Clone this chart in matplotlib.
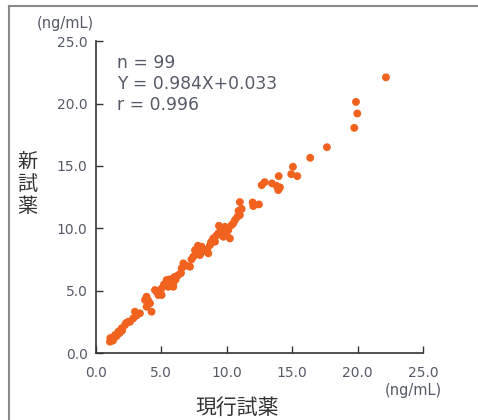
import matplotlib
matplotlib.use('Agg')
import matplotlib.pyplot as plt
from matplotlib.lines import Line2D

plt.rcParams['font.family'] = ['DejaVu Sans', 'Noto Sans CJK JP']

# 現行試薬 (x) vs 新試薬 (y), ng/mL
current_reagent = [
    22.17, 19.88, 19.98, 19.75, 17.66, 16.38, 15.06, 14.93, 15.39, 13.97,
    13.46, 13.81, 14.07, 13.94, 12.67, 11.98, 12.46, 12.03, 11.00, 11.14,
    11.00, 10.63, 10.80, 10.37, 10.12, 10.24, 9.40, 9.86, 9.99, 9.73,
    9.35, 8.97, 9.10, 8.72, 8.59, 8.08, 7.90, 7.70, 7.57, 7.95,
    7.44, 8.30, 9.60, 10.50, 9.20, 6.68, 7.19, 6.55, 6.29, 6.90,
    5.91, 5.40, 5.79, 5.28, 5.91, 5.53, 5.02, 4.64, 5.02, 4.51,
    4.77, 3.87, 3.75, 4.13, 3.87, 4.25, 2.98, 3.36, 2.85, 2.47,
    2.22, 1.96, 1.71, 1.45, 1.20, 1.07, 1.30, 1.60, 2.00, 2.30,
    2.60, 1.10, 1.80, 6.00, 6.50, 5.60, 7.30, 6.10, 8.80, 8.00,
    8.50, 3.10, 5.20, 12.90, 10.90, 9.50, 7.80, 4.00, 1.50,
]
new_reagent = [
    22.10, 20.13, 19.20, 18.05, 16.50, 15.65, 14.93, 14.34, 14.18, 14.18,
    13.60, 13.40, 13.28, 13.06, 13.46, 12.07, 11.91, 11.78, 12.10, 11.55,
    11.06, 10.66, 10.90, 10.26, 9.86, 9.19, 10.20, 10.12, 9.46, 9.32,
    9.59, 9.19, 8.92, 8.65, 7.99, 8.52, 8.40, 8.12, 8.25, 7.85,
    7.72, 8.20, 9.90, 10.40, 9.40, 7.19, 6.92, 6.79, 6.25, 7.00,
    5.58, 5.85, 5.71, 5.45, 5.31, 5.31, 5.18, 4.91, 4.65, 5.05,
    4.65, 4.51, 4.25, 3.98, 3.71, 3.31, 3.31, 3.18, 2.78, 2.51,
    2.24, 1.98, 1.71, 1.44, 1.18, 0.91, 1.00, 1.40, 1.80, 2.40,
    2.50, 1.20, 1.60, 6.10, 6.40, 5.90, 7.50, 5.90, 8.90, 8.00,
    8.30, 3.00, 5.50, 13.70, 11.40, 9.70, 8.60, 4.20, 1.30,
]
ticks = [0, 5, 10, 15, 20, 25]
tick_labels = ['0.0', '5.0', '10.0', '15.0', '20.0', '25.0']
stats_text = 'n = 99\nY = 0.984X+0.033\nr = 0.996'

text_col = '#555a66'
dot_col = '#f0621e'

fig = plt.figure(figsize=(4.78, 4.20), dpi=100)
ax = fig.add_axes([0.2008, 0.1595, 0.684, 0.7425])

ax.scatter(current_reagent, new_reagent, s=32, color=dot_col, edgecolors='none', zorder=3)

ax.set_xlim(0, 25)
ax.set_ylim(0, 25)
ax.set_xticks(ticks)
ax.set_yticks(ticks)
ax.set_xticklabels(tick_labels)
ax.set_yticklabels(tick_labels)
ax.tick_params(direction='in', length=5, width=1, colors='#333333',
               labelcolor=text_col, labelsize=10)
ax.tick_params(axis='x', pad=9)
ax.tick_params(axis='y', pad=6)
ax.spines['top'].set_visible(False)
ax.spines['right'].set_visible(False)
for s in ['left', 'bottom']:
    ax.spines[s].set_color('#333333')
    ax.spines[s].set_linewidth(1.2)

ax.text(0.065, 0.958, stats_text, transform=ax.transAxes, ha='left', va='top',
        fontsize=12.3, color=text_col, linespacing=1.22)

# units and axis titles
fig.text(0.136, 0.945, '(ng/mL)', ha='center', va='center', fontsize=10.5, color=text_col)
fig.text(0.864, 0.071, '(ng/mL)', ha='center', va='center', fontsize=10.5, color=text_col)
fig.text(0.496, 0.029, '現行試薬', ha='center', va='center', fontsize=15, color='#333333')
fig.text(0.058, 0.56, '新\n試\n薬', ha='center', va='center', fontsize=14.5,
         color='#333333', linespacing=1.2)

# outer frame (top and left edges)
fig.add_artist(Line2D([0.019, 1.0], [0.985, 0.985], transform=fig.transFigure,
                      color='#8a8a8a', lw=1.5))
fig.add_artist(Line2D([0.019, 0.019], [0.0, 0.985], transform=fig.transFigure,
                      color='#8a8a8a', lw=1.5))

fig.savefig('out.png', dpi=100)
